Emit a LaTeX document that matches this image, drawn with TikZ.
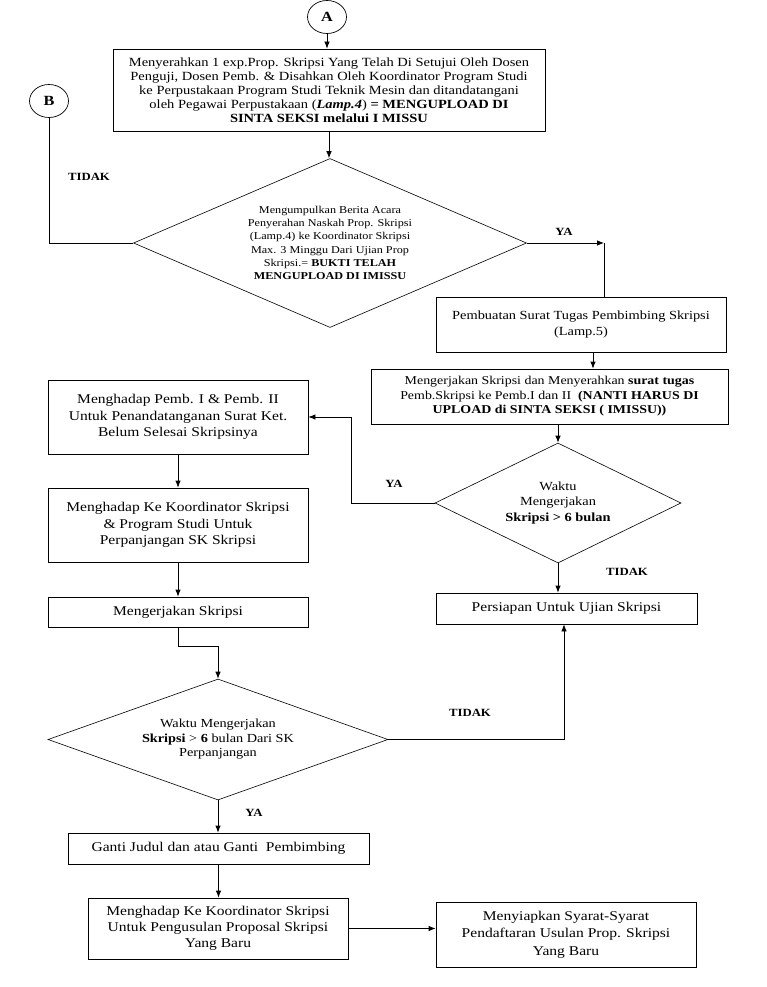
\documentclass[tikz,border=0pt]{standalone}
\usepackage{fontspec}
\setmainfont{Liberation Serif}[FakeStretch=1.16]
\usepackage{tikz}
\usetikzlibrary{shapes.geometric,arrows.meta}
\tikzset{>={Latex[length=7pt,width=5.5pt]}}
\tikzset{
  kotak/.style={draw, rectangle, align=center, inner sep=0pt, line width=0.8pt, font=\fontsize{13.4}{16.5}\selectfont},
  pilih/.style={draw, diamond, align=center, inner sep=0pt, line width=0.6pt},
  konektor/.style={draw, ellipse, minimum width=39pt, minimum height=33pt, inner sep=0pt, line width=0.7pt, font=\bfseries\fontsize{14}{16}\selectfont},
  ket/.style={font=\bfseries\fontsize{11}{13}\selectfont},
  every path/.style={line width=0.8pt}
}

\begin{document}
\begin{tikzpicture}[x=1pt,y=-1pt]
\useasboundingbox (0,0) rectangle (766,987);

\node[konektor] (A) at (327,17) {A};
\node[konektor] (B) at (49,101) {B};

\node[kotak, minimum width=432pt, minimum height=82pt, font=\fontsize{12.5}{14}\selectfont] (serah) at (329,90)
  {Menyerahkan 1 exp.Prop. Skripsi Yang Telah Di Setujui Oleh Dosen\\
   Penguji, Dosen Pemb. \& Disahkan Oleh Koordinator Program Studi\\
   ke Perpustakaan Program Studi Teknik Mesin dan ditandatangani\\
   oleh Pegawai Perpustakaan (\textbf{\textit{Lamp.4}}) \textbf{= MENGUPLOAD DI}\\
   \textbf{SINTA SEKSI melalui I MISSU}};

\node[pilih, aspect=2.33, minimum width=393pt, minimum height=169pt, font=\fontsize{10.5}{13.3}\selectfont] (kumpul) at (330,243)
  {Mengumpulkan Berita Acara\\
   Penyerahan Naskah Prop. Skripsi\\
   (Lamp.4) ke Koordinator Skripsi\\
   Max. 3 Minggu Dari Ujian Prop\\
   Skripsi.= \textbf{BUKTI TELAH}\\
   \textbf{MENGUPLOAD DI IMISSU}};

\node[kotak, minimum width=290pt, minimum height=55pt, font=\fontsize{12.4}{16.5}\selectfont] (surat) at (581,324.5)
  {Pembuatan Surat Tugas Pembimbing Skripsi\\(Lamp.5)};

\node[kotak, minimum width=357pt, minimum height=55pt, font=\fontsize{12}{14.5}\selectfont] (kerja) at (549.5,396.5)
  {Mengerjakan Skripsi dan Menyerahkan \textbf{surat tugas}\\
   Pemb.Skripsi ke Pemb.I dan II\ \ \textbf{(NANTI HARUS DI}\\
   \textbf{UPLOAD di SINTA SEKSI ( IMISSU))}};

\node[pilih, aspect=2.05, minimum width=246pt, minimum height=120pt, font=\fontsize{12.4}{15.5}\selectfont] (waktu) at (558,503)
  {Waktu\\ Mengerjakan\\ \textbf{Skripsi > 6 bulan}};

\node[kotak, minimum width=261pt, minimum height=31pt] (siap) at (566.5,608.5) {Persiapan Untuk Ujian Skripsi};

\node[kotak, minimum width=260pt, minimum height=74pt] (hadap1) at (178,417)
  {Menghadap Pemb. I \& Pemb. II\\ Untuk Penandatanganan Surat Ket.\\ Belum Selesai Skripsinya};
\node[kotak, minimum width=260pt, minimum height=74pt] (hadap2) at (178,525)
  {Menghadap Ke Koordinator Skripsi\\ \& Program Studi Untuk\\ Perpanjangan SK Skripsi};
\node[kotak, minimum width=260pt, minimum height=30pt] (garap) at (178,612) {Mengerjakan Skripsi};

\node[pilih, aspect=2.81, minimum width=340pt, minimum height=121pt, font=\fontsize{12.3}{14.5}\selectfont] (lama) at (218,739.5)
  {Waktu Mengerjakan\\ \textbf{Skripsi} > \textbf{6} bulan Dari SK\\ Perpanjangan};

\node[kotak, minimum width=301pt, minimum height=31pt] (ganti) at (218.5,848.5) {Ganti Judul dan atau Ganti\ \ Pembimbing};
\node[kotak, minimum width=260pt, minimum height=61pt, font=\fontsize{13.4}{16}\selectfont] (baru) at (218,928.5)
  {Menghadap Ke Koordinator Skripsi\\ Untuk Pengusulan Proposal Skripsi\\ Yang Baru};
\node[kotak, minimum width=260pt, minimum height=65pt, font=\fontsize{13.4}{17.5}\selectfont] (syarat) at (566,934.5)
  {Menyiapkan Syarat-Syarat\\ Pendaftaran Usulan Prop. Skripsi\\ Yang Baru};

\node[ket] (tidak1) at (89,177) {TIDAK};
\node[ket] (ya1) at (564,232) {YA};
\node[ket] (ya2) at (394,484) {YA};
\node[ket] (tidak2) at (627,572) {TIDAK};
\node[ket] (tidak3) at (470,713) {TIDAK};
\node[ket] (ya3) at (254,813) {YA};

\coordinate (belok) at (604,243);

\draw[->] (A) -- (A |- serah.north);
\draw[->] (serah.south) -- (serah.south |- kumpul.north);
\draw (B) |- (kumpul.west);
\draw[->] (kumpul.east) -- (belok);
\draw (belok) -- (belok |- surat.north);
\draw[->] ([xshift=12pt]surat.south) -- ([xshift=12pt]surat.south |- kerja.north);
\draw[->] (kerja.south -| waktu.north) -- (waktu.north);
\draw[->] (waktu.west) -- ++(-83,0) |- (hadap1.east);
\draw[->] (waktu.south) -- (waktu.south |- siap.north);
\draw[->] (hadap1) -- (hadap2);
\draw[->] (hadap2) -- (garap);
\draw[->] (garap.south) -- ++(0,19) -| (lama.north);
\draw[->] (lama.east) -| ([xshift=-2.5pt]siap.south);
\draw[->] (lama.south) -- (lama.south |- ganti.north);
\draw[->] (ganti.south) -- (ganti.south |- baru.north);
\draw[->] (baru.east) -- (baru.east -| syarat.west);
\end{tikzpicture}
\end{document}
